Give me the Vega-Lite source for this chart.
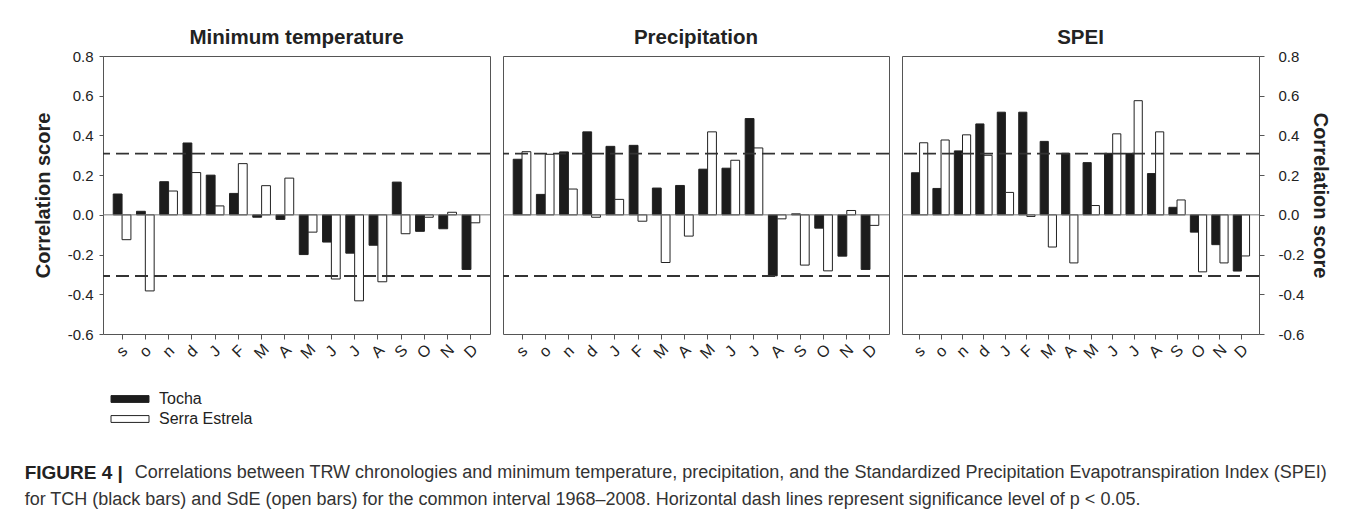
{
  "$schema": "https://vega.github.io/schema/vega-lite/v6.json",
  "autosize": {"type": "pad"},
  "padding": {"left": 24, "top": 27, "right": 0, "bottom": 0},
  "background": "white",
  "data": {"values": [
    {"p":"Min","i":0,"s":"Tocha","r":0.105},{"p":"Min","i":1,"s":"Tocha","r":0.018},{"p":"Min","i":2,"s":"Tocha","r":0.167},{"p":"Min","i":3,"s":"Tocha","r":0.362},
    {"p":"Min","i":4,"s":"Tocha","r":0.2},{"p":"Min","i":5,"s":"Tocha","r":0.108},{"p":"Min","i":6,"s":"Tocha","r":-0.012},{"p":"Min","i":7,"s":"Tocha","r":-0.023},
    {"p":"Min","i":8,"s":"Tocha","r":-0.2},{"p":"Min","i":9,"s":"Tocha","r":-0.137},{"p":"Min","i":10,"s":"Tocha","r":-0.193},{"p":"Min","i":11,"s":"Tocha","r":-0.153},
    {"p":"Min","i":12,"s":"Tocha","r":0.165},{"p":"Min","i":13,"s":"Tocha","r":-0.083},{"p":"Min","i":14,"s":"Tocha","r":-0.07},{"p":"Min","i":15,"s":"Tocha","r":-0.275},
    {"p":"Min","i":0,"s":"Serra Estrela","r":-0.125},{"p":"Min","i":1,"s":"Serra Estrela","r":-0.383},{"p":"Min","i":2,"s":"Serra Estrela","r":0.12},{"p":"Min","i":3,"s":"Serra Estrela","r":0.213},
    {"p":"Min","i":4,"s":"Serra Estrela","r":0.045},{"p":"Min","i":5,"s":"Serra Estrela","r":0.258},{"p":"Min","i":6,"s":"Serra Estrela","r":0.147},{"p":"Min","i":7,"s":"Serra Estrela","r":0.185},
    {"p":"Min","i":8,"s":"Serra Estrela","r":-0.087},{"p":"Min","i":9,"s":"Serra Estrela","r":-0.323},{"p":"Min","i":10,"s":"Serra Estrela","r":-0.433},{"p":"Min","i":11,"s":"Serra Estrela","r":-0.337},
    {"p":"Min","i":12,"s":"Serra Estrela","r":-0.095},{"p":"Min","i":13,"s":"Serra Estrela","r":-0.012},{"p":"Min","i":14,"s":"Serra Estrela","r":0.013},{"p":"Min","i":15,"s":"Serra Estrela","r":-0.04},
    {"p":"Pre","i":0,"s":"Tocha","r":0.28},{"p":"Pre","i":1,"s":"Tocha","r":0.103},{"p":"Pre","i":2,"s":"Tocha","r":0.317},{"p":"Pre","i":3,"s":"Tocha","r":0.418},
    {"p":"Pre","i":4,"s":"Tocha","r":0.345},{"p":"Pre","i":5,"s":"Tocha","r":0.35},{"p":"Pre","i":6,"s":"Tocha","r":0.135},{"p":"Pre","i":7,"s":"Tocha","r":0.148},
    {"p":"Pre","i":8,"s":"Tocha","r":0.23},{"p":"Pre","i":9,"s":"Tocha","r":0.235},{"p":"Pre","i":10,"s":"Tocha","r":0.485},{"p":"Pre","i":11,"s":"Tocha","r":-0.307},
    {"p":"Pre","i":12,"s":"Tocha","r":0.005},{"p":"Pre","i":13,"s":"Tocha","r":-0.067},{"p":"Pre","i":14,"s":"Tocha","r":-0.208},{"p":"Pre","i":15,"s":"Tocha","r":-0.275},
    {"p":"Pre","i":0,"s":"Serra Estrela","r":0.318},{"p":"Pre","i":1,"s":"Serra Estrela","r":0.305},{"p":"Pre","i":2,"s":"Serra Estrela","r":0.13},{"p":"Pre","i":3,"s":"Serra Estrela","r":-0.012},
    {"p":"Pre","i":4,"s":"Serra Estrela","r":0.078},{"p":"Pre","i":5,"s":"Serra Estrela","r":-0.032},{"p":"Pre","i":6,"s":"Serra Estrela","r":-0.24},{"p":"Pre","i":7,"s":"Serra Estrela","r":-0.107},
    {"p":"Pre","i":8,"s":"Serra Estrela","r":0.418},{"p":"Pre","i":9,"s":"Serra Estrela","r":0.275},{"p":"Pre","i":10,"s":"Serra Estrela","r":0.337},{"p":"Pre","i":11,"s":"Serra Estrela","r":-0.02},
    {"p":"Pre","i":12,"s":"Serra Estrela","r":-0.253},{"p":"Pre","i":13,"s":"Serra Estrela","r":-0.282},{"p":"Pre","i":14,"s":"Serra Estrela","r":0.022},{"p":"Pre","i":15,"s":"Serra Estrela","r":-0.053},
    {"p":"SPEI","i":0,"s":"Tocha","r":0.212},{"p":"SPEI","i":1,"s":"Tocha","r":0.133},{"p":"SPEI","i":2,"s":"Tocha","r":0.322},{"p":"SPEI","i":3,"s":"Tocha","r":0.458},
    {"p":"SPEI","i":4,"s":"Tocha","r":0.517},{"p":"SPEI","i":5,"s":"Tocha","r":0.517},{"p":"SPEI","i":6,"s":"Tocha","r":0.37},{"p":"SPEI","i":7,"s":"Tocha","r":0.31},
    {"p":"SPEI","i":8,"s":"Tocha","r":0.263},{"p":"SPEI","i":9,"s":"Tocha","r":0.31},{"p":"SPEI","i":10,"s":"Tocha","r":0.31},{"p":"SPEI","i":11,"s":"Tocha","r":0.208},
    {"p":"SPEI","i":12,"s":"Tocha","r":0.038},{"p":"SPEI","i":13,"s":"Tocha","r":-0.087},{"p":"SPEI","i":14,"s":"Tocha","r":-0.15},{"p":"SPEI","i":15,"s":"Tocha","r":-0.283},
    {"p":"SPEI","i":0,"s":"Serra Estrela","r":0.363},{"p":"SPEI","i":1,"s":"Serra Estrela","r":0.377},{"p":"SPEI","i":2,"s":"Serra Estrela","r":0.403},{"p":"SPEI","i":3,"s":"Serra Estrela","r":0.3},
    {"p":"SPEI","i":4,"s":"Serra Estrela","r":0.113},{"p":"SPEI","i":5,"s":"Serra Estrela","r":-0.008},{"p":"SPEI","i":6,"s":"Serra Estrela","r":-0.162},{"p":"SPEI","i":7,"s":"Serra Estrela","r":-0.242},
    {"p":"SPEI","i":8,"s":"Serra Estrela","r":0.047},{"p":"SPEI","i":9,"s":"Serra Estrela","r":0.408},{"p":"SPEI","i":10,"s":"Serra Estrela","r":0.575},{"p":"SPEI","i":11,"s":"Serra Estrela","r":0.418},
    {"p":"SPEI","i":12,"s":"Serra Estrela","r":0.075},{"p":"SPEI","i":13,"s":"Serra Estrela","r":-0.287},{"p":"SPEI","i":14,"s":"Serra Estrela","r":-0.242},{"p":"SPEI","i":15,"s":"Serra Estrela","r":-0.207}
  ]},
  "title": {
    "text": "FIGURE 4 |",
    "subtitle": ["\u200b\u00a0\u00a0\u00a0\u00a0\u00a0\u00a0\u00a0\u00a0\u00a0\u00a0\u00a0\u00a0\u00a0\u00a0\u00a0\u00a0\u00a0\u00a0\u00a0\u00a0\u00a0\u00a0Correlations between TRW chronologies and minimum temperature, precipitation, and the Standardized Precipitation Evapotranspiration Index (SPEI)", "for TCH (black bars) and SdE (open bars) for the common interval 1968–2008. Horizontal dash lines represent significance level of p < 0.05."],
    "orient": "bottom", "anchor": "start", "frame": "bounds",
    "font": "Liberation Sans", "fontSize": 19, "fontWeight": "bold", "color": "#222",
    "subtitleFont": "Liberation Sans", "subtitleFontSize": 18, "subtitleColor": "#333", "subtitleLineHeight": 27,
    "subtitlePadding": -19, "offset": 37, "dx": -8
  },
  "resolve": {"scale": {"color": "shared", "x": "independent", "y": "independent", "xOffset": "independent"}, "legend": {"color": "shared"}},
  "spacing": 9,
  "hconcat": [
    {
      "width": 387, "height": 278,
      "title": {"text": "Minimum temperature", "offset": 1},
      "transform": [{"filter": "datum.p === 'Min'"}],
      "layer": [
        {"mark": {"type": "bar", "stroke": "#222", "strokeWidth": 1},
         "encoding": {
           "x": {"field": "i", "type": "ordinal", "scale": {"paddingInner": 0.24, "paddingOuter": 0.44},
                 "axis": {"title": null, "labelExpr": "['s','o','n','d','J','F','M','A','M','J','J','A','S','O','N','D'][datum.value]"}},
           "xOffset": {"field": "s", "sort": ["Tocha", "Serra Estrela"]},
           "y": {"field": "r", "type": "quantitative", "scale": {"domain": [-0.6, 0.8], "nice": false},
                 "axis": {"orient": "left", "values": [-0.6,-0.4,-0.2,0,0.2,0.4,0.6,0.8], "tickCount": 8, "labelExpr": "replace(format(datum.value, '.1f'), '\u2212', '-')", "labelOverlap": false, "title": "Correlation score", "tickSize": 4, "labelPadding": 6, "titlePadding": 14}},
           "color": {"field": "s", "type": "nominal", "scale": {"domain": ["Tocha", "Serra Estrela"], "range": ["#1c1c1c", "#ffffff"]},
                     "legend": {"title": null, "orient": "none", "legendX": 17, "legendY": 333}}
         }},
        {"data": {"values": [{}]}, "mark": {"type": "rule", "color": "#777", "strokeWidth": 1}, "encoding": {"y": {"datum": 0}}},
        {"data": {"values": [{}]}, "mark": {"type": "rule", "color": "#333", "strokeWidth": 1.8, "strokeDash": [13, 6]}, "encoding": {"y": {"datum": 0.308}}},
        {"data": {"values": [{}]}, "mark": {"type": "rule", "color": "#333", "strokeWidth": 1.8, "strokeDash": [13, 6]}, "encoding": {"y": {"datum": -0.308}}}
      ]
    },
    {
      "width": 386, "height": 278,
      "title": {"text": "Precipitation", "offset": 8},
      "transform": [{"filter": "datum.p === 'Pre'"}],
      "layer": [
        {"mark": {"type": "bar", "stroke": "#222", "strokeWidth": 1},
         "encoding": {
           "x": {"field": "i", "type": "ordinal", "scale": {"paddingInner": 0.24, "paddingOuter": 0.44},
                 "axis": {"title": null, "labelExpr": "['s','o','n','d','J','F','M','A','M','J','J','A','S','O','N','D'][datum.value]"}},
           "xOffset": {"field": "s", "sort": ["Tocha", "Serra Estrela"]},
           "y": {"field": "r", "type": "quantitative", "scale": {"domain": [-0.6, 0.8], "nice": false}, "axis": null},
           "color": {"field": "s", "type": "nominal", "scale": {"domain": ["Tocha", "Serra Estrela"], "range": ["#1c1c1c", "#ffffff"]},
                     "legend": {"title": null, "orient": "none", "legendX": 17, "legendY": 333}}
         }},
        {"data": {"values": [{}]}, "mark": {"type": "rule", "color": "#777", "strokeWidth": 1}, "encoding": {"y": {"datum": 0}}},
        {"data": {"values": [{}]}, "mark": {"type": "rule", "color": "#333", "strokeWidth": 1.8, "strokeDash": [13, 6]}, "encoding": {"y": {"datum": 0.308}}},
        {"data": {"values": [{}]}, "mark": {"type": "rule", "color": "#333", "strokeWidth": 1.8, "strokeDash": [13, 6]}, "encoding": {"y": {"datum": -0.308}}}
      ]
    },
    {
      "width": 357, "height": 278,
      "title": {"text": "SPEI", "offset": 1},
      "transform": [{"filter": "datum.p === 'SPEI'"}],
      "layer": [
        {"mark": {"type": "bar", "stroke": "#222", "strokeWidth": 1},
         "encoding": {
           "x": {"field": "i", "type": "ordinal", "scale": {"paddingInner": 0.24, "paddingOuter": 0.44},
                 "axis": {"title": null, "labelExpr": "['s','o','n','d','J','F','M','A','M','J','J','A','S','O','N','D'][datum.value]"}},
           "xOffset": {"field": "s", "sort": ["Tocha", "Serra Estrela"]},
           "y": {"field": "r", "type": "quantitative", "scale": {"domain": [-0.6, 0.8], "nice": false},
                 "axis": {"orient": "right", "values": [-0.6,-0.4,-0.2,0,0.2,0.4,0.6,0.8], "tickCount": 8, "labelExpr": "replace(format(datum.value, '.1f'), '\u2212', '-')", "labelOverlap": false, "title": "Correlation score", "tickSize": 5, "labelPadding": 14, "titlePadding": 6}},
           "color": {"field": "s", "type": "nominal", "scale": {"domain": ["Tocha", "Serra Estrela"], "range": ["#1c1c1c", "#ffffff"]},
                     "legend": {"title": null, "orient": "none", "legendX": 17, "legendY": 333}}
         }},
        {"data": {"values": [{}]}, "mark": {"type": "rule", "color": "#777", "strokeWidth": 1}, "encoding": {"y": {"datum": 0}}},
        {"data": {"values": [{}]}, "mark": {"type": "rule", "color": "#333", "strokeWidth": 1.8, "strokeDash": [13, 6]}, "encoding": {"y": {"datum": 0.308}}},
        {"data": {"values": [{}]}, "mark": {"type": "rule", "color": "#333", "strokeWidth": 1.8, "strokeDash": [13, 6]}, "encoding": {"y": {"datum": -0.308}}}
      ]
    }
  ],
  "config": {
    "font": "Liberation Sans",
    "view": {"stroke": "#555", "strokeWidth": 1},
    "axis": {"labelFont": "Liberation Sans", "labelFontSize": 15, "labelColor": "#222", "titleFont": "Liberation Sans", "titleFontSize": 20, "titleFontWeight": "bold", "titleColor": "#222", "tickColor": "#555", "domain": false, "grid": false, "tickSize": 5},
    "axisY": {"labelOverlap": false, "labelBound": false, "labelFlush": false},
    "axisX": {"labelAngle": -45, "labelAlign": "center", "labelBaseline": "middle", "labelPadding": 12, "labelFontSize": 16},
    "title": {"font": "Liberation Sans", "fontSize": 20.5, "fontWeight": "bold", "color": "#222"},
    "legend": {"labelFont": "Liberation Sans", "labelFontSize": 16, "labelColor": "#222", "symbolType": "M-2,-0.36H2V0.36H-2Z", "symbolSize": 361, "symbolStrokeColor": "#222", "symbolStrokeWidth": 1, "symbolOpacity": 1, "labelOffset": 19, "rowPadding": 2}
  }
}
